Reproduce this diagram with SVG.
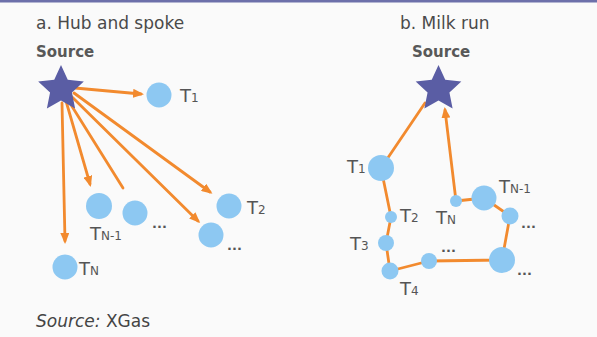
<svg xmlns="http://www.w3.org/2000/svg" width="597" height="337" viewBox="0 0 597 337">
<style>
.bg{fill:#fafafa}
.top{fill:#6d70aa}
.title{font-family:"DejaVu Sans",sans-serif;font-size:17px;fill:#4a4a4a}
.src{font-family:"DejaVu Sans",sans-serif;font-size:15px;font-weight:bold;fill:#585858}
.lbl{font-family:"DejaVu Sans",sans-serif;font-size:18px;fill:#555}
.sub{font-size:12px}
.dots{font-family:"DejaVu Sans",sans-serif;font-size:13px;font-weight:bold;fill:#555}
.cap{font-family:"DejaVu Sans",sans-serif;font-size:17px;fill:#444}
.edge{stroke:#F28A2E;stroke-width:2.8;fill:none;stroke-linecap:round;stroke-linejoin:round}
.node{fill:#8DC8F2}
.star{fill:#5A5DA4}
</style>
<defs>
<marker id="ah" markerWidth="11" markerHeight="9" refX="8" refY="4.5" orient="auto" markerUnits="userSpaceOnUse">
<path d="M0,0 L11,4.5 L0,9 z" fill="#F28A2E"/>
</marker>
<path id="starshape" d="M0,-24 L6.76,-9.3 L22.83,-7.42 L10.93,3.55 L14.11,19.42 L0,11.5 L-14.11,19.42 L-10.93,3.55 L-22.83,-7.42 L-6.76,-9.3 Z"/>
</defs>
<rect class="bg" x="0" y="0" width="597" height="337"/>
<rect class="top" x="0" y="0" width="597" height="2.5"/>

<text class="title" x="36" y="29">a. Hub and spoke</text>
<text class="title" x="400" y="29">b. Milk run</text>

<g id="connectors">
<line class="edge" x1="75" y1="88" x2="141" y2="94" marker-end="url(#ah)"/>
<line class="edge" x1="74" y1="93" x2="210" y2="192" marker-end="url(#ah)"/>
<line class="edge" x1="71" y1="96" x2="198" y2="221" marker-end="url(#ah)"/>
<line class="edge" x1="68" y1="100" x2="123" y2="188"/>
<line class="edge" x1="66" y1="101" x2="90" y2="184" marker-end="url(#ah)"/>
<line class="edge" x1="62" y1="103" x2="65" y2="241" marker-end="url(#ah)"/>

<line class="edge" x1="381" y1="168" x2="425" y2="103"/>
<polyline class="edge" points="381,168 391,217 386,243 390,271 429,261 502,260 510,216 484,198 456,201"/>
<line class="edge" x1="456" y1="201" x2="445" y2="110" marker-end="url(#ah)"/>
</g>

<g id="source-a">
<use href="#starshape" class="star" transform="translate(61,89)"/>
<text class="src" x="36" y="57">Source</text>
</g>
<g id="a-t1"><circle class="node" cx="159" cy="95" r="12.5"/><text class="lbl" x="180" y="102">T<tspan class="sub">1</tspan></text></g>
<g id="a-t2"><circle class="node" cx="229" cy="206" r="12.5"/><text class="lbl" x="247" y="214">T<tspan class="sub">2</tspan></text></g>
<g id="a-dots1"><circle class="node" cx="211" cy="235" r="12.5"/><text class="dots" x="227" y="250">...</text></g>
<g id="a-dots2"><circle class="node" cx="135" cy="213" r="12.5"/><text class="dots" x="152" y="228">...</text></g>
<g id="a-tn1"><circle class="node" cx="99" cy="206" r="13"/><text class="lbl" x="90" y="240">T<tspan class="sub">N-1</tspan></text></g>
<g id="a-tn"><circle class="node" cx="65" cy="267" r="12.5"/><text class="lbl" x="79" y="275">T<tspan class="sub">N</tspan></text></g>

<g id="source-b">
<use href="#starshape" class="star" transform="translate(438.5,89)"/>
<text class="src" x="412" y="57">Source</text>
</g>
<g id="b-t1"><circle class="node" cx="381" cy="168" r="13"/><text class="lbl" x="347" y="173">T<tspan class="sub">1</tspan></text></g>
<g id="b-t2"><circle class="node" cx="391" cy="217" r="6"/><text class="lbl" x="400" y="222">T<tspan class="sub">2</tspan></text></g>
<g id="b-t3"><circle class="node" cx="386" cy="243" r="8"/><text class="lbl" x="350" y="250">T<tspan class="sub">3</tspan></text></g>
<g id="b-t4"><circle class="node" cx="390" cy="271" r="8.5"/><text class="lbl" x="400" y="295">T<tspan class="sub">4</tspan></text></g>
<g id="b-dots1"><circle class="node" cx="429" cy="261" r="8"/><text class="dots" x="441" y="252">...</text></g>
<g id="b-dots2"><circle class="node" cx="502" cy="260" r="13"/><text class="dots" x="517" y="275">...</text></g>
<g id="b-dots3"><circle class="node" cx="510" cy="216" r="8.5"/><text class="dots" x="521" y="228">...</text></g>
<g id="b-tn1"><circle class="node" cx="484" cy="198" r="12.5"/><text class="lbl" x="499" y="193">T<tspan class="sub">N-1</tspan></text></g>
<g id="b-tn"><circle class="node" cx="456" cy="201" r="6"/><text class="lbl" x="436" y="224">T<tspan class="sub">N</tspan></text></g>

<text class="cap" x="36" y="327"><tspan font-style="italic">Source:</tspan> XGas</text>
</svg>
